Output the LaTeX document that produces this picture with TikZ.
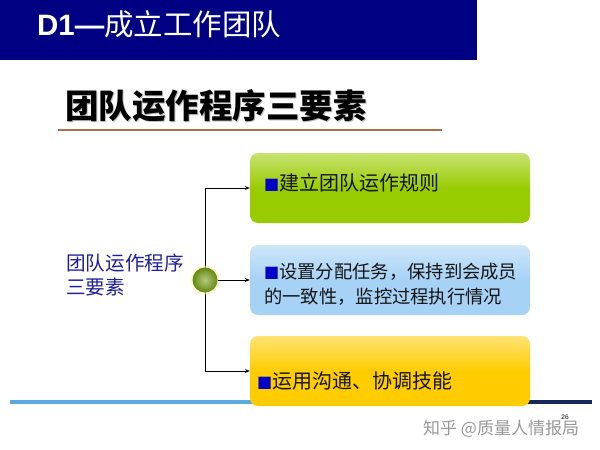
\documentclass[tikz,border=0pt]{standalone}
\usepackage{fontspec}
\setmainfont{Liberation Sans}
\newfontfamily\cjk{Noto Sans CJK SC}
\newfontfamily\djv{DejaVu Sans}
\usetikzlibrary{arrows.meta,shadings}
\definecolor{navyband}{RGB}{0,0,130}
\definecolor{sqblue}{RGB}{0,0,200}
\definecolor{lefttext}{RGB}{30,30,160}
\definecolor{ulbrown}{RGB}{175,110,75}
\definecolor{boxgreen}{RGB}{153,204,0}
\definecolor{boxblue}{RGB}{166,210,246}
\definecolor{boxgold}{RGB}{255,204,0}
\definecolor{ballgreen}{RGB}{118,160,20}
\definecolor{linelight}{RGB}{90,170,225}
\definecolor{linedark}{RGB}{25,40,90}
\definecolor{boxtext}{RGB}{20,20,20}
\newcommand\bsq{{\djv\fontsize{16}{16}\selectfont\color{sqblue}\raisebox{1pt}{■}}}
\tikzset{
  boxshape/.style={rounded corners=8pt, minimum width=280pt, minimum height=70pt, inner sep=0pt, draw=none},
  boxlabel/.style={anchor=west, inner sep=0pt, align=left, text=boxtext, font=\cjk\fontsize{20}{25}\selectfont},
  conn/.style={line width=0.8pt, black},
  arr/.style={conn, -{Stealth[length=5pt,width=4pt]}}
}
\begin{document}
\begin{tikzpicture}[x=1pt,y=-1pt]
\useasboundingbox (0,0) rectangle (600,450);
\fill[white] (0,0) rectangle (600,450);
% header band
\fill[navyband] (0,0) rectangle (477,60);
\node[anchor=west,text=white,inner sep=0pt] (hdr) at (37,24)
  {\fontsize{29.5}{30}\selectfont\textbf{D1—}\cjk 成立工作团队};
% title with shadow
\node[anchor=west,inner sep=0pt,text=black!25] (titleshadow) at (66.2,107.2)
  {\cjk\bfseries\fontsize{33.5}{34}\selectfont 团队运作程序三要素};
\node[anchor=west,inner sep=0pt,text=black] (title) at (65,106)
  {\cjk\bfseries\fontsize{33.5}{34}\selectfont 团队运作程序三要素};
\coordinate (ul1) at (58,130);
\coordinate (ul2) at (442,130);
\draw[ulbrown, line width=1.6pt] (ul1) -- (ul2);
% left label
\node[anchor=west,inner sep=0pt,align=left,text=lefttext,font=\cjk\fontsize{19.6}{24}\selectfont] (left) at (66,275)
  {团队运作程序\\三要素};
% bottom line
\coordinate (bl1) at (10,402);
\coordinate (bl2) at (260,402);
\coordinate (bl3) at (520,402);
\coordinate (bl4) at (592,402);
\draw[linelight, line width=3.5pt] (bl1) -- (bl2);
\draw[linedark, line width=3.5pt] (bl3) -- (bl4);
% boxes
\node[boxshape, top color=boxgreen!55!white, bottom color=boxgreen, middle color=boxgreen] (b1) at (390,188) {};
\node[boxshape, top color=boxblue!55!white, bottom color=boxblue, middle color=boxblue] (b2) at (390,280) {};
\node[boxshape, top color=boxgold!55!white, bottom color=boxgold, middle color=boxgold] (b3) at (390,371) {};
\node[boxlabel] (t1) at (264,183) {\bsq 建立团队运作规则};
\node[boxlabel, font=\cjk\fontsize{18.3}{25}\selectfont] (t2) at (264,284.5) {\bsq 设置分配任务，保持到会成员\\的一致性，监控过程执行情况};
\node[boxlabel] (t3) at (257,381) {\bsq 运用沟通、协调技能};
% connectors
\coordinate (vtop) at (205,188);
\coordinate (vbot) at (205,371);
\draw[conn] (vtop) -- (vbot);
\draw[arr] (vtop) -- (b1.west);
\draw[arr] (vbot) -- (b3.west);
% ball
\fill[yellow!30!white, opacity=0.6] (205,280) circle (14.5pt);
\node[circle, minimum size=25pt, inner sep=0pt, shading=radial, inner color=ballgreen!55!white, outer color=ballgreen!85!black] (ball) at (205,280) {};
\draw[arr] (ball.east) -- (b2.west);
% watermark
\node[anchor=west,inner sep=0pt,text=black!40,font=\cjk\fontsize{17}{17}\selectfont] (wm) at (423,429) {知乎 @质量人情报局};
\node[inner sep=0pt,font=\fontsize{6.5}{6.5}\selectfont] (pg) at (565,417) {26};
\end{tikzpicture}
\end{document}
